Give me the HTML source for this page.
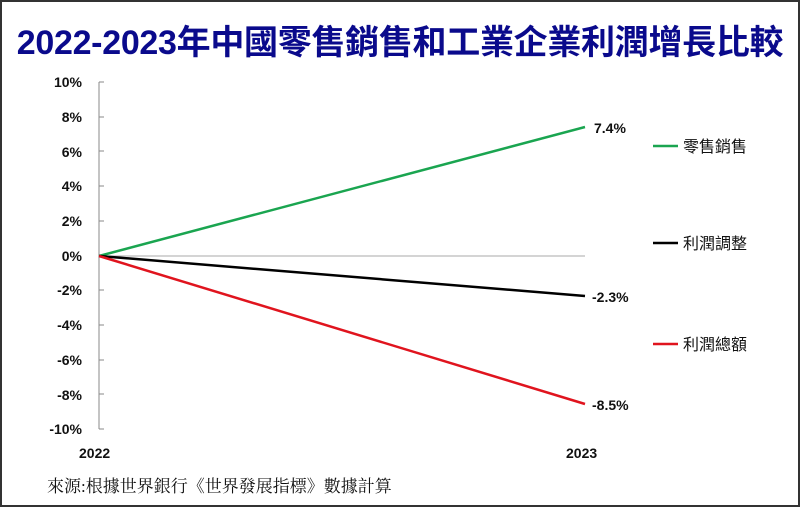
<!DOCTYPE html>
<html><head><meta charset="utf-8"><style>
body{margin:0;background:#fff}
.w{position:relative;width:796px;height:503px;border:2px solid #333;overflow:hidden;background:#fff}
.t{position:absolute;left:0;right:0;top:13px;text-align:center;font:bold 34px "Liberation Sans","Noto Sans CJK TC",sans-serif;color:#0a0a8c;letter-spacing:-0.3px;white-space:nowrap}
svg{position:absolute;left:-2px;top:-2px}
.src{position:absolute;left:45px;top:470px;font:17px "Liberation Serif","Noto Serif CJK SC",serif;color:#111}
</style></head><body><div class="w">
<div class="t">2022-2023年中國零售銷售和工業企業利潤增長比較</div>
<svg width="800" height="507" font-family="Liberation Sans, Noto Sans CJK TC, sans-serif">
<g font-size="14" font-weight="bold" fill="#111" text-anchor="end">
<text x="82" y="87">10%</text><text x="82" y="122">8%</text><text x="82" y="157">6%</text><text x="82" y="191">4%</text><text x="82" y="226">2%</text><text x="82" y="261">0%</text><text x="82" y="295">-2%</text><text x="82" y="330">-4%</text><text x="82" y="365">-6%</text><text x="82" y="400">-8%</text><text x="82" y="434">-10%</text>
</g>
<line x1="99" y1="82" x2="99" y2="429" stroke="#888" stroke-width="1"/>
<g stroke="#888" stroke-width="1">
<line x1="99" y1="82" x2="104" y2="82"/><line x1="99" y1="117" x2="104" y2="117"/><line x1="99" y1="151" x2="104" y2="151"/><line x1="99" y1="186" x2="104" y2="186"/><line x1="99" y1="221" x2="104" y2="221"/><line x1="99" y1="290" x2="104" y2="290"/><line x1="99" y1="325" x2="104" y2="325"/><line x1="99" y1="360" x2="104" y2="360"/><line x1="99" y1="394" x2="104" y2="394"/><line x1="99" y1="429" x2="104" y2="429"/>
</g>
<line x1="99" y1="256" x2="585" y2="256" stroke="#aaa" stroke-width="1"/>
<line x1="99" y1="256" x2="585" y2="127" stroke="#1aa550" stroke-width="2.5"/>
<line x1="99" y1="256" x2="585" y2="296" stroke="#000" stroke-width="2.5"/>
<line x1="99" y1="256" x2="585" y2="404" stroke="#e0141e" stroke-width="2.5"/>
<g font-size="14" font-weight="bold" fill="#111">
<text x="594" y="133">7.4%</text><text x="592" y="302">-2.3%</text><text x="592" y="410">-8.5%</text>
<text x="79" y="458">2022</text><text x="566" y="458">2023</text>
</g>
<line x1="653" y1="146" x2="678" y2="146" stroke="#1aa550" stroke-width="2.5"/>
<line x1="653" y1="243" x2="678" y2="243" stroke="#000" stroke-width="2.5"/>
<line x1="653" y1="344" x2="678" y2="344" stroke="#e0141e" stroke-width="2.5"/>
<g font-size="16" fill="#111" font-family="Noto Sans CJK TC, sans-serif">
<text x="683" y="152">零售銷售</text><text x="683" y="249">利潤調整</text><text x="683" y="350">利潤總額</text>
</g>
</svg>
<div class="src">來源:根據世界銀行《世界發展指標》數據計算</div>
</div></body></html>
